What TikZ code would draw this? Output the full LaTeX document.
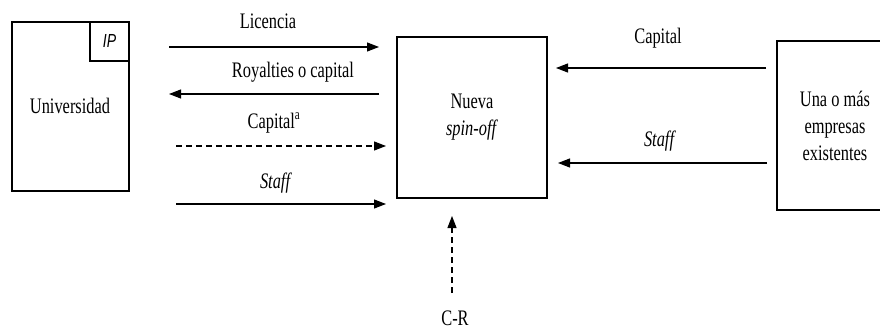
\documentclass[tikz,border=0pt]{standalone}
\usepackage{fontspec}
\setmainfont{Liberation Serif}
\newfontfamily\ipfont{Liberation Sans}
\usetikzlibrary{arrows.meta}
\begin{document}
\begin{tikzpicture}[x=1pt,y=-1pt,
  box/.style={draw,line width=1.1pt,inner sep=0pt},
  lbl/.style={font=\fontsize{16.4}{20}\selectfont,yscale=1.35,transform shape,inner sep=0pt,align=center},
  flow/.style={line width=1.1pt,-{Triangle[length=12pt,width=9pt]}},
  dflow/.style={flow,dash pattern=on 6pt off 4pt}]
\useasboundingbox (0,0) rectangle (880,331);
% boxes
\node[box,minimum width=117pt,minimum height=169pt] (uni) at (70.5,106.5) {};
\node[box,minimum width=39pt,minimum height=39pt,anchor=north east] (ipb) at (uni.north east) {};
\node[lbl,font=\fontsize{14}{16}\ipfont\itshape] (ip) at (ipb.center) {IP};
\node[lbl] (unit) at (70,106) {Universidad};
\node[box,minimum width=150pt,minimum height=161pt] (spin) at (472,117.5) {};
\node[lbl] (spint) at (472,117.5) {Nueva\\\textit{spin-off}};
\node[box,minimum width=110pt,minimum height=169pt] (ext) at (832,125.5) {};
\node[lbl] (extt) at (835,126) {Una o más\\empresas\\existentes};
% arrow endpoints
\coordinate (a1s) at (169,47);  \coordinate (a1e) at (379,47);
\coordinate (a2s) at (379,94);  \coordinate (a2e) at (169,94);
\coordinate (a3s) at (176,146); \coordinate (a3e) at (386,146);
\coordinate (a4s) at (176,204); \coordinate (a4e) at (386,204);
\coordinate (b1s) at (766,68);  \coordinate (b1e) at (556,68);
\coordinate (b2s) at (767,163); \coordinate (b2e) at (558,163);
\coordinate (cs) at (452,293);  \coordinate (ce) at (452,216);
\draw[flow] (a1s) -- (a1e);
\draw[flow] (a2s) -- (a2e);
\draw[dflow] (a3s) -- (a3e);
\draw[flow] (a4s) -- (a4e);
\draw[flow] (b1s) -- (b1e);
\draw[flow] (b2s) -- (b2e);
\draw[dflow] (cs) -- (ce);
% labels
\node[lbl] (l1) at (268,21) {Licencia};
\node[lbl] (l2) at (293,72) {Royalties o capital};
\node[lbl] (l3) at (274,123) {Capital\textsuperscript{\fontsize{11}{11}\selectfont a}};
\node[lbl] (l4) at (276,183) {\textit{Staff}};
\node[lbl] (r1) at (658,38) {Capital};
\node[lbl] (r2) at (660,141) {\textit{Staff}};
\node[lbl] (cr) at (455,318) {C-R};
\end{tikzpicture}
\end{document}
